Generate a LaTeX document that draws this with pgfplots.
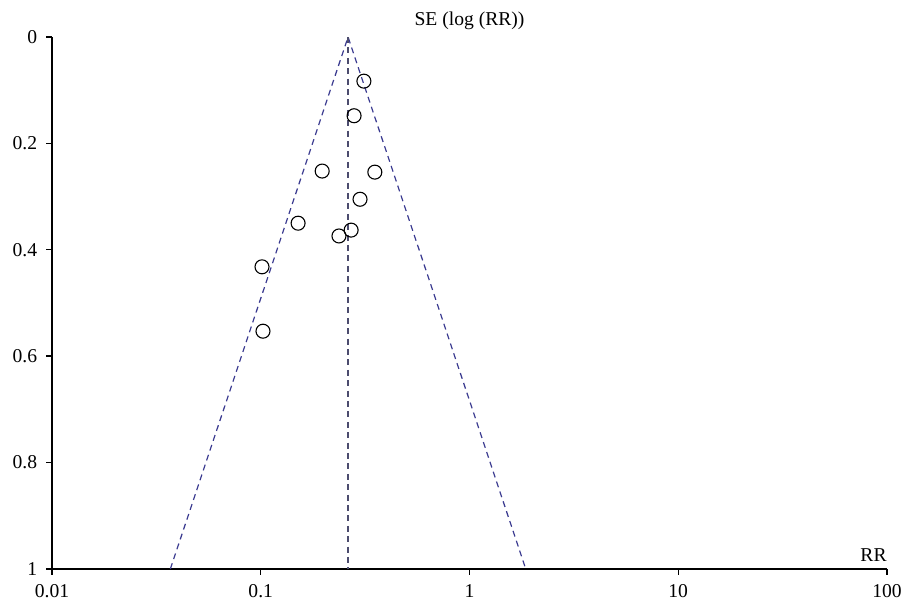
\documentclass[border=0pt]{standalone}
\usepackage{fontspec}
\setmainfont{Liberation Serif}
\usepackage{pgfplots}
\pgfplotsset{compat=1.18}
\definecolor{funnel}{HTML}{3A3A90}
\definecolor{centre}{HTML}{4C4C6E}
\begin{document}
\fontsize{9.8}{12}\selectfont
\begin{tikzpicture}
\begin{axis}[
  scale only axis,
  width=417.5pt, height=266pt,
  xmode=log, xmin=0.01, xmax=100,
  ymin=0, ymax=1, y dir=reverse,
  axis x line=bottom, axis y line=left,
  axis line style={-, line width=0.75pt, black},
  tick style={line width=0.7pt, black},
  tick align=outside,
  major tick length=3pt,
  xtick={0.01,0.1,1,10,100},
  xticklabels={0.01,0.1,1,10,100},
  xminorticks=false,
  ytick={0,0.2,0.4,0.6,0.8,1},
  yticklabels={0,0.2,0.4,0.6,0.8,1},
  /pgf/number format/assume math mode=true,
  ticklabel style={font=\fontsize{9.8}{12}\selectfont},
  yticklabel style={anchor=east, xshift=-1pt},
  xticklabel style={anchor=base, yshift=-11.5pt},
  title={SE (log (RR))},
  title style={at={(0.5,1)}, anchor=base, yshift=0pt, font=\fontsize{9.8}{12}\selectfont},
  clip=false,
]
\addplot[funnel, line width=0.6pt, dash pattern=on 3pt off 2.2pt] coordinates {(0.0369,1) (0.262,0) (1.86,1)};
\addplot[centre, line width=0.7pt, dash pattern=on 3pt off 2.2pt] coordinates {(0.262,0) (0.262,1)};
\addplot[only marks, mark=o, mark size=3.5pt, mark options={black, line width=0.55pt}] coordinates {
(0.312,0.083)
(0.280,0.148)
(0.197,0.252)
(0.352,0.254)
(0.299,0.305)
(0.151,0.350)
(0.271,0.363)
(0.237,0.374)
(0.1014,0.432)
(0.1025,0.553)
};
\node[anchor=base east, inner sep=0pt] at ([shift={(0pt,3.5pt)}]axis cs:100,1) {RR};
\coordinate (tl) at (axis cs:0.01,0);
\coordinate (br) at (axis cs:100,1);
\end{axis}
\pgfresetboundingbox
\path ([shift={(-26pt,18.5pt)}]tl) rectangle ([shift={(8.5pt,-18pt)}]br);
\end{tikzpicture}
\end{document}
